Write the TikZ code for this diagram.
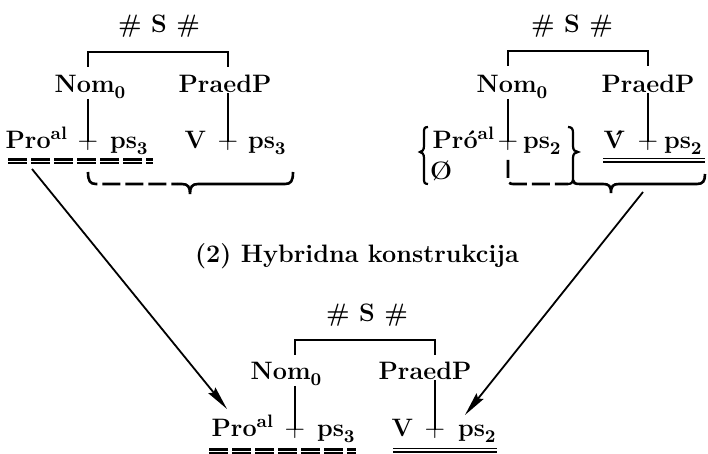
\documentclass[tikz,border=0pt]{standalone}
\usepackage{fontspec}
\usetikzlibrary{arrows.meta,backgrounds}
\newcommand\subx[1]{\raisebox{-0.5ex}{\fontsize{9}{10}\selectfont\bfseries #1}}
\newcommand\supx[1]{\raisebox{0.85ex}{\fontsize{9}{10}\selectfont\bfseries #1}}
\begin{document}
\begin{tikzpicture}[x=0.5pt,y=-0.5pt,
  every node/.style={inner sep=0pt,outer sep=0pt,font=\fontsize{12.6}{15}\selectfont\bfseries},
  plus/.style={font=\fontsize{13.5}{15}\selectfont\mdseries},
  tree/.style={line width=0.7pt},
  brc/.style={line width=1.3pt},
  brcthin/.style={line width=1.1pt},
  brcdash/.style={brc,dash pattern=on 9pt off 2.5pt},
  dul/.style={double,line width=1.2pt,double distance=0.4pt,dash pattern=on 9.5pt off 2pt},
  sul/.style={double,line width=0.8pt,double distance=1pt},
  arr/.style={line width=0.9pt,-{Stealth[length=12pt,width=4.5pt,inset=1.5pt]}}]
\useasboundingbox (0,0) rectangle (708,454);

% ---------- top left ----------
\node[anchor=base] (aHS) at (159,33) {\# S \#};
\node[anchor=base] (aNom) at (90,93) {Nom\subx{0}};
\node[anchor=base] (aPr) at (225,93) {PraedP};
\node[anchor=base east] (aPro) at (67,149) {Pro\supx{al}};
\node[anchor=base,plus] (aPlA) at (88,149) {+};
\node[anchor=base west] (aPsA) at (110,149) {ps\subx{3}};
\node[anchor=base east] (aV) at (206,149) {V};
\node[anchor=base,plus] (aPlB) at (228,149) {+};
\node[anchor=base west] (aPsB) at (248,149) {ps\subx{3}};

% ---------- top right ----------
\node[anchor=base] (bHS) at (572,33) {\# S \#};
\node[anchor=base] (bNom) at (512,93) {Nom\subx{0}};
\node[anchor=base] (bPr) at (648,93) {PraedP};
\node[anchor=base east] (bPro) at (494,149) {Pr\'o\supx{al}};
\node[anchor=base,plus] (bPlA) at (508,149) {+};
\node[anchor=base west] (bPsA) at (523,149) {ps\subx{2}};
\node[anchor=base west] (bNull) at (430,180) {\O};
\node[anchor=base east] (bV) at (625,149) {\'V};
\node[anchor=base,plus] (bPlB) at (648,149) {+};
\node[anchor=base west] (bPsB) at (664,149) {ps\subx{2}};

% ---------- label ----------
\node[anchor=base] (cLab) at (357,263) {(2) Hybridna konstrukcija};

% ---------- bottom ----------
\node[anchor=base] (cHS) at (367,322) {\# S \#};
\node[anchor=base] (cNom) at (286,380) {Nom\subx{0}};
\node[anchor=base] (cPr) at (425,380) {PraedP};
\node[anchor=base east] (cPro) at (273,437) {Pro\supx{al}};
\node[anchor=base,plus] (cPlA) at (295,437) {+};
\node[anchor=base west] (cPsA) at (317,437) {ps\subx{3}};
\node[anchor=base east] (cV) at (413,437) {V};
\node[anchor=base,plus] (cPlB) at (435,437) {+};
\node[anchor=base west] (cPsB) at (458,437) {ps\subx{2}};

\coordinate (aTop) at (0,52);
\coordinate (aLow) at (0,67);
\coordinate (aU1) at (8,161);
\coordinate (aU2) at (153,161);
\coordinate (bTop) at (0,51);
\coordinate (bLow) at (0,66);
\coordinate (bU1) at (603,160.5);
\coordinate (bU2) at (705,160.5);
\coordinate (cTop) at (0,340);
\coordinate (cLow) at (0,355);
\coordinate (cU1) at (209,451);
\coordinate (cU2) at (356,451);
\coordinate (cU3) at (393,450.5);
\coordinate (cU4) at (497,450.5);
\coordinate (arAs) at (32,169);
\coordinate (arAe) at (227,409);
\coordinate (arBs) at (643,192);
\coordinate (arBe) at (465,415);

\begin{scope}[on background layer]
% top left
\draw[tree] (aPlA |- aLow) -- (aPlA |- aTop) -- (aPlB |- aTop) -- (aPlB |- aLow);
\draw[tree] (aPlA |- aNom.south) -- (aPlA.center);
\draw[tree] (aPlB |- aPr.south) -- (aPlB.center);
\draw[dul] (aU1) -- (aU2);
\draw[brcdash] (88,172) .. controls (88,181) and (90,184) .. (96,184) -- (177,184);
\draw[brc] (177,184) -- (182,184) .. controls (188,184) and (190,187) .. (190,194)
  .. controls (190,187) and (192,184) .. (198,184) -- (285,184)
  .. controls (291,184) and (293,181) .. (293,172);
% top right
\draw[tree] (bPlA |- bLow) -- (bPlA |- bTop) -- (bPlB |- bTop) -- (bPlB |- bLow);
\draw[tree] (bPlA |- bNom.south) -- (bPlA.center);
\draw[tree] (bPlB |- bPr.south) -- (bPlB.center);
\draw[brcthin] (428,127) .. controls (424,127) and (424,129) .. (424,133) -- (424,146)
  .. controls (424,150) and (422,152) .. (420,152) .. controls (422,152) and (424,154) .. (424,158)
  -- (424,178) .. controls (424,182) and (424,184) .. (428,184);
\draw[brcthin] (568,127) .. controls (572,127) and (573,129) .. (573,133) -- (573,146)
  .. controls (573,150) and (575,152) .. (578,152) .. controls (575,152) and (573,154) .. (573,158)
  -- (573,178) .. controls (573,182) and (572,184) .. (568,184);
\draw[brcdash] (508,160) -- (508,178) .. controls (508,182) and (509,184) .. (513,184) -- (568,184);
\draw[brc] (573,180) .. controls (573,183) and (575,184) .. (580,184) -- (603,184)
  .. controls (609,184) and (611,186) .. (611,193) .. controls (611,186) and (613,184) .. (619,184)
  -- (697,184) .. controls (703,184) and (705,181) .. (705,174);
\draw[sul] (bU1) -- (bU2);
% bottom
\draw[tree] (cPlA |- cLow) -- (cPlA |- cTop) -- (cPlB |- cTop) -- (cPlB |- cLow);
\draw[tree] (cPlA |- cNom.south) -- (cPlA.center);
\draw[tree] (cPlB |- cPr.south) -- (cPlB.center);
\draw[dul] (cU1) -- (cU2);
\draw[sul] (cU3) -- (cU4);
% arrows
\draw[arr] (arAs) -- (arAe);
\draw[arr] (arBs) -- (arBe);
\end{scope}
\end{tikzpicture}
\end{document}
